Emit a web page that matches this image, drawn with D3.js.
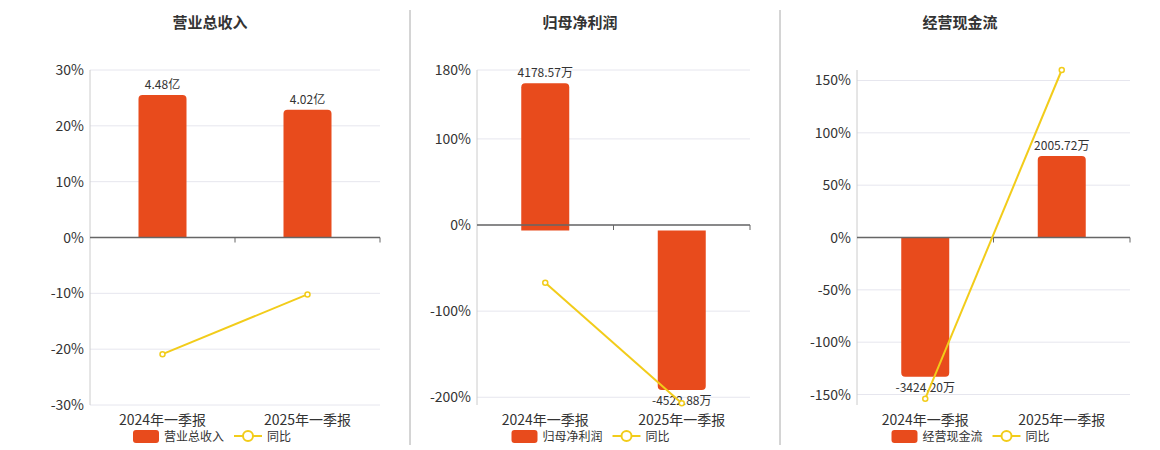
<!DOCTYPE html><html><head><meta charset="utf-8"><script src="https://cdn.jsdelivr.net/npm/d3@7"></script>
<style>body{margin:0;background:#fff;font-family:"Noto Sans CJK SC","Noto Sans",sans-serif}</style></head><body><svg id="c" width="1160" height="450"></svg>
<script>
const categories=["2024年一季报","2025年一季报"];
const titles=["营业总收入","归母净利润","经营现金流"];
const barNames=["营业总收入","归母净利润","经营现金流"];
const barValues=[[4.48,4.02],[4178.57,-4522.88],[-3424.20,2005.72]];
const barLabels=[["4.48亿","4.02亿"],["4178.57万","-4522.88万"],["-3424.20万","2005.72万"]];
const yoyValues=[[-20.9,-10.2],[-67,-207],[-154,160]];
const yDomains=[[-30,30],[-209,180],[-160,160]];
const yTicks=[[-30,-20,-10,0,10,20,30],[-200,-100,0,100,180],[-150,-100,-50,0,50,100,150]];
const barDomains=[[-5.27,5.27],[-4950,4558],[-4119,4119]];
const panels=[{x0:90,x1:380,cx:210},{x0:477,x1:750,cx:580},{x0:857,x1:1130,cx:960}];
const svg=d3.select("#c");
const plotTop=70,plotBot=405,barC="#E84B1C",lineC="#F2CC1A";
[410,780].forEach(x=>svg.append("line").attr("x1",x).attr("x2",x).attr("y1",10).attr("y2",445).attr("stroke","#aaa"));
panels.forEach((p,i)=>{
 const g=svg.append("g");
 const x=d3.scaleBand().domain(categories).range([p.x0,p.x1]);
 const y=d3.scaleLinear().domain(yDomains[i]).range([plotBot,plotTop]);
 const yb=d3.scaleLinear().domain(barDomains[i]).range([plotBot,plotTop]);
 g.append("text").attr("x",p.cx).attr("y",28).attr("text-anchor","middle").attr("font-size",15).attr("font-weight","bold").attr("fill","#333").text(titles[i]);
 yTicks[i].forEach(t=>{g.append("line").attr("x1",p.x0).attr("x2",p.x1).attr("y1",y(t)).attr("y2",y(t)).attr("stroke","#e6e6ee");
  g.append("text").attr("x",p.x0-6).attr("y",y(t)+5).attr("text-anchor","end").attr("font-size",14).attr("fill","#333").text(t+"%");});
 g.append("line").attr("x1",p.x0).attr("x2",p.x0).attr("y1",plotTop).attr("y2",plotBot).attr("stroke","#ccc");
 const bw=48;
 categories.forEach((c,j)=>{const v=barValues[i][j];const cx=x(c)+x.bandwidth()/2;
  const y0=yb(0),y1=yb(v);
  g.append("path").attr("fill",barC).attr("d",()=>{const r=4,l=cx-bw/2,rr=cx+bw/2;
   if(v>=0)return `M${l},${y0}V${y1+r}Q${l},${y1} ${l+r},${y1}H${rr-r}Q${rr},${y1} ${rr},${y1+r}V${y0}Z`;
   return `M${l},${y0}V${y1-r}Q${l},${y1} ${l+r},${y1}H${rr-r}Q${rr},${y1} ${rr},${y1-r}V${y0}Z`;});
  g.append("text").attr("x",cx).attr("y",v>=0?y1-6:y1+15).attr("text-anchor","middle").attr("font-size",12).attr("fill","#333").text(barLabels[i][j]);
  g.append("text").attr("x",cx).attr("y",plotBot+20).attr("text-anchor","middle").attr("font-size",14).attr("fill","#333").text(c);
 });
 g.append("line").attr("x1",p.x0).attr("x2",p.x1).attr("y1",y(0)).attr("y2",y(0)).attr("stroke","#666").attr("stroke-width",1.5);
 [p.x0+x.bandwidth(),p.x1].forEach(t=>g.append("line").attr("x1",t).attr("x2",t).attr("y1",y(0)).attr("y2",y(0)+5).attr("stroke","#666"));
 const pts=categories.map((c,j)=>[x(c)+x.bandwidth()/2,y(yoyValues[i][j])]);
 g.append("path").attr("d",d3.line()(pts)).attr("fill","none").attr("stroke",lineC).attr("stroke-width",2);
 pts.forEach(q=>g.append("circle").attr("cx",q[0]).attr("cy",q[1]).attr("r",2.5).attr("fill","#fff").attr("stroke",lineC).attr("stroke-width",1.5));
 const lx=(p.x0+p.x1)/2-102,ly=436;
 g.append("rect").attr("x",lx).attr("y",ly-6).attr("width",26).attr("height",13).attr("rx",3).attr("fill",barC);
 g.append("text").attr("x",lx+31).attr("y",ly+5).attr("font-size",12).attr("fill","#333").text(barNames[i]);
 const l2=lx+31+barNames[i].length*12+10;
 g.append("line").attr("x1",l2).attr("x2",l2+28).attr("y1",ly).attr("y2",ly).attr("stroke",lineC).attr("stroke-width",2);
 g.append("circle").attr("cx",l2+14).attr("cy",ly).attr("r",5).attr("fill","#fff").attr("stroke",lineC).attr("stroke-width",2);
 g.append("text").attr("x",l2+33).attr("y",ly+5).attr("font-size",12).attr("fill","#333").text("同比");
});
</script></body></html>
